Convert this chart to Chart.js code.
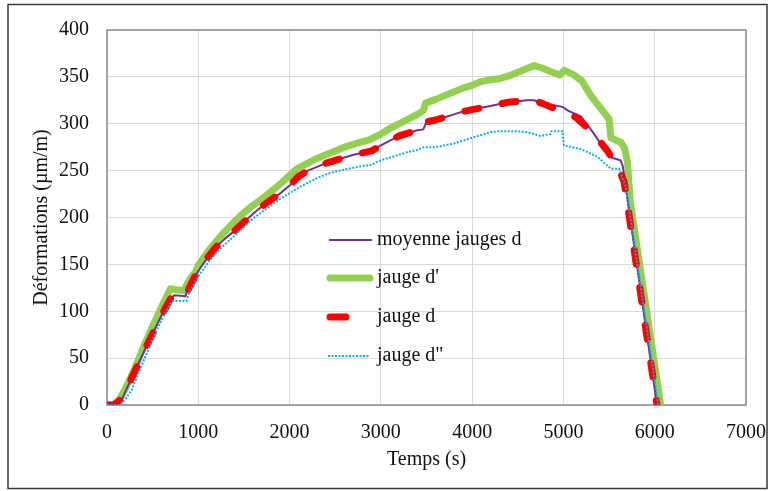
<!DOCTYPE html>
<html>
<head>
<meta charset="utf-8">
<script src="https://cdn.jsdelivr.net/npm/chart.js@4"></script>
<style>
  body { margin: 0; background: #fff; }
  #wrap { width: 772px; height: 491px; }
</style>
</head>
<body>
<div id="wrap"><canvas id="chart" width="772" height="491"></canvas></div>
<script>
// moyenne jauges d
const moyX = [0, 90, 160, 200, 300, 400, 500, 600, 700, 740, 860, 890, 1000, 1100, 1200, 1300, 1400, 1500, 1600, 1700, 1800, 1900, 2000, 2100, 2200, 2300, 2400, 2500, 2600, 2700, 2800, 2900, 3000, 3100, 3200, 3300, 3400, 3465, 3500, 3600, 3700, 3800, 3900, 4000, 4100, 4200, 4300, 4400, 4500, 4600, 4680, 4760, 4860, 4880, 4990, 5050, 5190, 5330, 5480, 5500, 5560, 5625, 5650, 6025];
const moyY = [0, 0, 5, 14, 35, 56, 76, 96, 114, 117, 116, 126, 143, 157, 169, 178, 186, 195, 204, 212, 219, 226, 234, 244, 250, 254, 258, 261, 264, 267, 269, 271, 277, 282, 287, 290, 293, 294, 302, 304, 307, 310, 313, 315, 317, 319, 321, 323, 324, 325, 325, 322, 318, 320, 318, 314, 308, 290, 268, 265, 263, 261, 255, 0];

// jauge d'
const dPrimeX = [0, 60, 130, 200, 300, 400, 500, 600, 695, 760, 840, 900, 970, 1000, 1100, 1200, 1300, 1400, 1500, 1600, 1700, 1800, 1900, 2000, 2080, 2200, 2300, 2400, 2500, 2600, 2700, 2800, 2880, 3000, 3100, 3200, 3300, 3400, 3465, 3490, 3600, 3700, 3800, 3900, 4000, 4100, 4200, 4300, 4400, 4500, 4600, 4680, 4750, 4850, 4960, 5010, 5100, 5200, 5300, 5500, 5520, 5630, 5670, 5700, 5735, 6065];
const dPrimeY = [0, 0, 5, 17, 38, 62, 84, 105, 124, 123, 122, 133, 142, 149, 163, 175, 186, 196, 205, 213, 220, 228, 236, 245, 252, 258, 263, 267, 271, 275, 278, 281, 283, 289, 295, 300, 305, 310, 314, 322, 326, 330, 334, 338, 341, 345, 347, 348, 351, 355, 359, 362, 360, 356, 352, 357, 353, 346, 330, 305, 285, 280, 274, 260, 215, 0];

// jauge d
const dX = [0, 80, 150, 200, 300, 400, 500, 600, 700, 740, 860, 900, 1000, 1100, 1200, 1300, 1400, 1500, 1600, 1700, 1800, 1900, 2000, 2100, 2200, 2300, 2400, 2500, 2600, 2700, 2800, 2900, 3000, 3100, 3200, 3300, 3400, 3465, 3500, 3600, 3700, 3800, 3900, 4000, 4100, 4200, 4300, 4400, 4500, 4600, 4680, 4760, 4860, 4950, 5135, 5336, 5482, 5540, 5590, 5665, 6025];
const dY = [0, 0, 6, 14, 35, 56, 76, 96, 114, 117, 116, 125, 144, 157, 169, 178, 186, 195, 204, 212, 219, 226, 234, 244, 250, 254, 258, 261, 264, 267, 269, 271, 277, 282, 287, 290, 293, 294, 302, 304, 307, 310, 313, 315, 317, 319, 321, 323, 324, 325, 325, 322, 318, 315, 307, 289, 271, 262, 256, 238, 0];

// jauge d''
const dSecX = [0, 140, 200, 270, 400, 500, 600, 700, 720, 870, 900, 1000, 1100, 1200, 1300, 1400, 1500, 1600, 1700, 1800, 1900, 2000, 2100, 2200, 2300, 2400, 2500, 2600, 2700, 2800, 2900, 2950, 3000, 3100, 3200, 3300, 3400, 3470, 3600, 3700, 3800, 3900, 4000, 4100, 4200, 4300, 4400, 4500, 4600, 4750, 4860, 4870, 4990, 5005, 5190, 5370, 5520, 5610, 5683, 6040];
const dSecY = [0, 0, 6, 16, 47, 70, 91, 109, 111, 111, 120, 137, 151, 163, 172, 181, 190, 199, 206, 213, 220, 226, 232, 237, 242, 246, 249, 251, 253, 255, 256, 259, 261, 264, 267, 270, 272, 275, 275, 277, 279, 282, 285, 288, 291, 292, 292, 292, 291, 287, 289, 292, 292, 277, 273, 265, 252, 252, 233, 0];

const xTicks = [0, 1000, 2000, 3000, 4000, 5000, 6000, 7000];
const yTicks = [0, 50, 100, 150, 200, 250, 300, 350, 400];

function pts(xs, ys) {
    return xs.map((x, i) => ({ x: x, y: ys[i] }));
}

const FONT = 'Liberation Serif';

// legend drawn inside the plot, like the original
const legendSpots = [
    { y: 240, x0: 329, x1: 372 },
    { y: 278, x0: 330, x1: 370 },
    { y: 317, x0: 330, x1: 346 },
    { y: 356, x0: 328, x1: 370 }
];

const extras = {
    id: 'extras',
    beforeDatasetsDraw(chart) {
        const { ctx, chartArea: a } = chart;
        ctx.save();
        ctx.strokeStyle = '#8a8a8a';
        ctx.lineWidth = 1.5;
        ctx.strokeRect(a.left, a.top, a.right - a.left, a.bottom - a.top);
        ctx.restore();
    },
    afterDraw(chart) {
        const ctx = chart.ctx;
        ctx.save();
        ctx.strokeStyle = '#3a3a3a';
        ctx.lineWidth = 1.5;
        ctx.strokeRect(8, 4.5, 759, 484);

        chart.data.datasets.forEach((ds, i) => {
            const s = legendSpots[i];
            ctx.beginPath();
            ctx.strokeStyle = ds.borderColor;
            ctx.lineWidth = ds.borderWidth;
            ctx.lineCap = ds.borderWidth > 3 ? 'round' : 'butt';
            ctx.setLineDash(ds.borderWidth > 3 ? [] : (ds.borderDash || []));
            ctx.moveTo(s.x0, s.y);
            ctx.lineTo(s.x1, s.y);
            ctx.stroke();
            ctx.setLineDash([]);
            ctx.fillStyle = '#111';
            ctx.font = '20px "' + FONT + '"';
            ctx.textBaseline = 'middle';
            ctx.fillText(ds.label, 377, s.y);
        });
        ctx.restore();
    }
};

new Chart(document.getElementById('chart'), {
    type: 'scatter',
    data: {
        datasets: [{
            label: 'moyenne jauges d',
            data: pts(moyX, moyY),
            borderColor: '#7030A0',
            borderWidth: 2,
            order: 3
        }, {
            label: "jauge d'",
            data: pts(dPrimeX, dPrimeY),
            borderColor: '#92D050',
            borderWidth: 7,
            borderJoinStyle: 'round',
            borderCapStyle: 'round',
            order: 4
        }, {
            label: 'jauge d',
            data: pts(dX, dY),
            borderColor: '#FF0000',
            borderWidth: 7,
            borderDash: [14, 24],
            borderCapStyle: 'round',
            borderJoinStyle: 'round',
            order: 2
        }, {
            label: 'jauge d"',
            data: pts(dSecX, dSecY),
            borderColor: '#00B0F0',
            borderWidth: 2,
            borderDash: [2, 1.5],
            order: 1
        }]
    },
    options: {
        responsive: false,
        animation: false,
        devicePixelRatio: 1,
        showLine: true,
        elements: {
            point: { radius: 0, hoverRadius: 0 },
            line: { tension: 0, fill: false }
        },
        layout: { padding: { left: 0, top: 24, right: 26, bottom: 0 } },
        plugins: {
            legend: { display: false },
            tooltip: { enabled: false }
        },
        scales: {
            x: {
                type: 'linear',
                min: 0,
                max: 7000,
                afterFit(scale) {
                    scale.height = 86;
                    scale.paddingLeft = 0;
                    scale.paddingRight = 0;
                },
                afterBuildTicks(scale) { scale.ticks = xTicks.map(v => ({ value: v })); },
                grid: { color: '#d9d9d9', lineWidth: 1, drawTicks: false },
                border: { display: false },
                ticks: {
                    padding: 16,
                    color: '#111',
                    font: { family: FONT, size: 20 },
                    callback: v => String(v)
                },
                title: {
                    display: true,
                    text: 'Temps (s)',
                    color: '#111',
                    font: { family: FONT, size: 20 },
                    padding: { top: 0, bottom: 19 }
                }
            },
            y: {
                min: 0,
                max: 400,
                afterFit(scale) { scale.width = 107; },
                afterBuildTicks(scale) { scale.ticks = yTicks.map(v => ({ value: v })); },
                grid: { color: '#d9d9d9', lineWidth: 1, drawTicks: false },
                border: { display: false },
                ticks: {
                    padding: 18,
                    color: '#111',
                    font: { family: FONT, size: 20 },
                    callback: v => String(v)
                },
                title: {
                    display: true,
                    text: 'Déformations (µm/m)',
                    color: '#111',
                    font: { family: FONT, size: 20 },
                    padding: { top: 30, bottom: 0 }
                }
            }
        }
    },
    plugins: [extras]
});
</script>
</body>
</html>
